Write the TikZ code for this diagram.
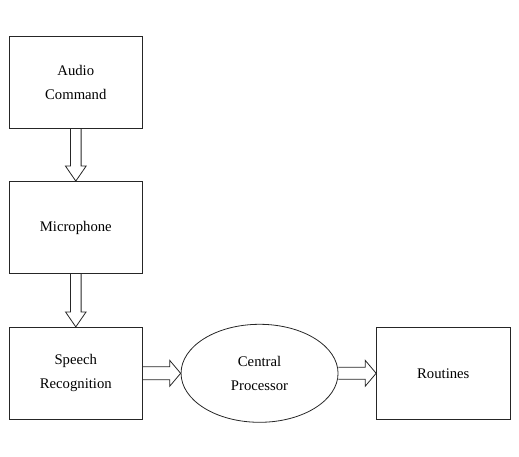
\documentclass[tikz,border=0pt]{standalone}
\usepackage{fontspec}
\setmainfont{Liberation Serif}
\usetikzlibrary{calc,positioning,shapes.geometric}

% hollow block arrow: from, to, shaft half width, head half width, head length
\newcommand{\hollowarrow}[5]{%
  \draw[blockarrow] let \p1=(#1), \p2=(#2),
    \n1={atan2(\y2-\y1,\x2-\x1)}, \n2={veclen(\x2-\x1,\y2-\y1)} in
    ($(\p1)+(\n1+90:#3)$) -- ++(\n1:\n2-#5) -- ++(\n1+90:#4-#3) -- (\p2)
    -- ($(\p2)+(\n1+180:#5)+(\n1-90:#4)$) -- ++(\n1+90:#4-#3)
    -- ($(\p1)+(\n1-90:#3)$);}

\begin{document}
\begin{tikzpicture}[x=1pt,y=1pt,
  node distance=52.7pt and 37.7pt,
  stage/.style={draw=black!85,line width=0.8pt,minimum width=133.5pt,minimum height=92pt,
    inner sep=0pt,align=center,font=\fontsize{14.7}{24}\selectfont},
  hub/.style={stage,ellipse,minimum width=157pt,minimum height=98pt},
  blockarrow/.style={draw=black!85,line width=0.8pt}]
  \useasboundingbox (0,0) rectangle (519,-457);
  % stages
  \node[stage] (audio) at (75.8,-82) {Audio\\Command};
  \node[stage,below=of audio] (mic) {Microphone};
  \node[stage,below=53pt of mic] (speech) {Speech\\Recognition};
  \node[hub,right=of speech] (cpu) {Central\\Processor};
  \node[stage,right=of cpu] (routines) {Routines};
  % arrows
  \hollowarrow{audio.south}{mic.north}{5.3}{10.3}{15}
  \hollowarrow{mic.south}{speech.north}{5.3}{10.3}{15}
  \hollowarrow{speech.east}{cpu.west}{6.5}{13}{11}
  \hollowarrow{cpu.east}{routines.west}{6}{13}{11}
\end{tikzpicture}
\end{document}
